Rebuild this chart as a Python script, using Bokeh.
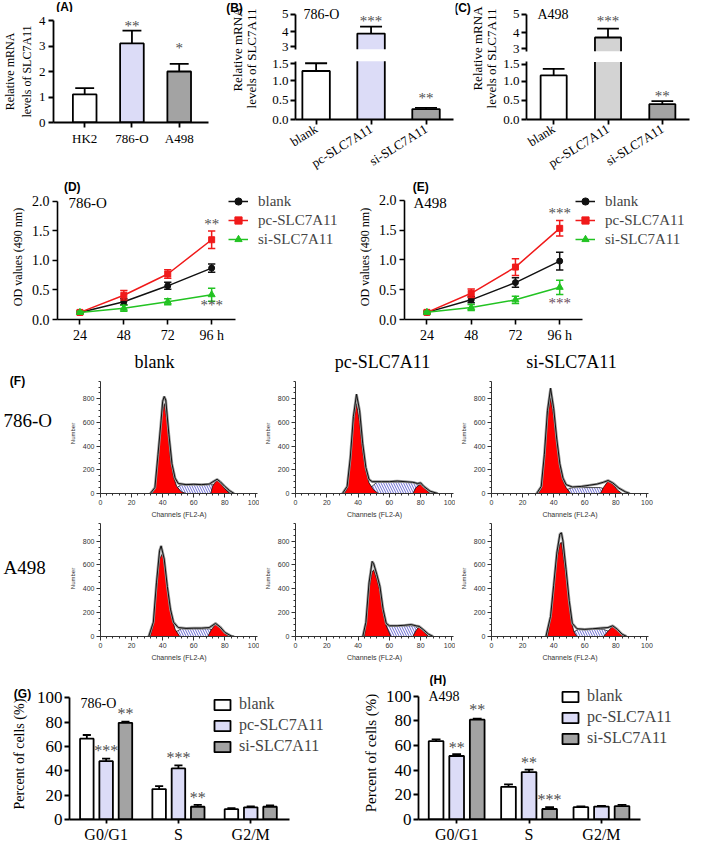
import math
from bokeh.plotting import figure
from bokeh.models import (Range1d, FixedTicker, Label, LabelSet, ColumnDataSource,
                          Legend, LegendItem, NumeralTickFormatter)
from bokeh.layouts import row, column
from bokeh.embed import file_html
from bokeh.resources import INLINE
from bokeh.core.properties import value

# ---------------- data ----------------
A_CATS = ["HK2", "786-O", "A498"]
A_VALS = [1.1, 3.1, 2.0]
A_ERR = [0.25, 0.5, 0.3]
A_STARS = ["", "**", "*"]
A_STAR_Y = [0, 3.8, 2.92]

GROUPS = ["blank", "pc-SLC7A11", "si-SLC7A11"]
B_VALS = [1.25, 3.9, 0.27]
B_ERR = [0.2, 0.4, 0.03]
B_STARS = ["", "***", "**"]
B_STAR_Y = [0, 4.62, 0.55]
C_VALS = [1.15, 3.75, 0.4]
C_ERR = [0.17, 0.48, 0.08]
C_STARS = ["", "***", "**"]
C_STAR_Y = [0, 4.65, 0.62]
BC_TOP_TICKS = ["3", "4", "5"]
BC_BOT_TICKS = ["0.0", "0.5", "1.0", "1.5"]

HOURS = [24, 48, 72, 96]
HOUR_LABELS = ["24", "48", "72", "96 h"]
D_BLANK = [0.12, 0.30, 0.57, 0.87]
D_BLANK_ERR = [0.02, 0.05, 0.06, 0.07]
D_PC = [0.12, 0.41, 0.77, 1.35]
D_PC_ERR = [0.02, 0.08, 0.07, 0.15]
D_SI = [0.12, 0.19, 0.30, 0.42]
D_SI_ERR = [0.02, 0.05, 0.05, 0.11]
D_STARS = ["**", "***"]
D_STAR_Y = [1.62, 0.24]
E_BLANK = [0.12, 0.33, 0.62, 0.98]
E_BLANK_ERR = [0.02, 0.05, 0.08, 0.15]
E_PC = [0.12, 0.44, 0.88, 1.53]
E_PC_ERR = [0.02, 0.07, 0.14, 0.13]
E_SI = [0.12, 0.20, 0.33, 0.54]
E_SI_ERR = [0.02, 0.05, 0.06, 0.12]
E_STARS = ["***", "***"]
E_STAR_Y = [1.78, 0.28]

# flow cytometry histograms: (channel, count) points
FC_786O_BLANK_G1 = [(33, 0), (35, 40), (37, 300), (39, 620), (41, 760), (43, 600), (45, 300), (47, 140), (49, 60), (52, 15), (55, 0)]
FC_786O_BLANK_S = [(44, 0), (48, 40), (52, 75), (72, 75), (80, 40), (84, 0)]
FC_786O_BLANK_G2 = [(71, 0), (72, 60), (74, 100), (75, 110), (77, 90), (80, 40), (83, 0)]
FC_786O_BLANK_ENV = [(32, 0), (35, 50), (37, 330), (39, 620), (40, 780), (41, 820), (42, 790), (44, 500), (46, 250), (48, 130), (50, 85), (55, 75), (60, 78), (65, 75), (70, 80), (73, 105), (75, 120), (77, 100), (80, 60), (83, 25), (86, 0)]

FC_786O_PC_G1 = [(31, 0), (33, 40), (35, 250), (37, 600), (39, 760), (41, 600), (43, 350), (45, 190), (47, 90), (50, 30), (53, 0)]
FC_786O_PC_S = [(44, 0), (48, 50), (52, 95), (76, 95), (82, 40), (86, 0)]
FC_786O_PC_G2 = [(75, 0), (77, 50), (80, 80), (83, 40), (86, 0)]
FC_786O_PC_ENV = [(30, 0), (33, 60), (35, 300), (37, 650), (39, 840), (41, 700), (43, 420), (45, 220), (47, 120), (49, 100), (55, 100), (60, 100), (65, 105), (70, 100), (75, 95), (78, 85), (80, 90), (82, 60), (86, 20), (91, 0)]

FC_786O_SI_G1 = [(30, 0), (32, 40), (34, 300), (36, 650), (38, 810), (40, 650), (42, 420), (44, 220), (46, 110), (48, 50), (51, 0)]
FC_786O_SI_S = [(44, 0), (48, 30), (52, 50), (70, 50), (76, 25), (80, 0)]
FC_786O_SI_G2 = [(70, 0), (72, 50), (75, 105), (78, 80), (81, 30), (84, 0)]
FC_786O_SI_ENV = [(29, 0), (32, 60), (34, 330), (36, 700), (38, 890), (40, 720), (42, 460), (44, 250), (46, 130), (48, 75), (52, 55), (58, 60), (63, 70), (68, 80), (72, 95), (75, 110), (78, 90), (82, 45), (86, 15), (89, 0)]

FC_A498_BLANK_G1 = [(32, 0), (34, 100), (36, 400), (38, 650), (40, 700), (42, 520), (44, 300), (46, 150), (48, 60), (51, 0)]
FC_A498_BLANK_S = [(44, 0), (48, 35), (52, 65), (70, 65), (76, 30), (80, 0)]
FC_A498_BLANK_G2 = [(69, 0), (71, 50), (74, 105), (77, 70), (80, 25), (83, 0)]
FC_A498_BLANK_ENV = [(31, 0), (34, 120), (36, 450), (38, 720), (39, 760), (41, 650), (43, 420), (45, 230), (47, 120), (50, 75), (55, 68), (60, 70), (65, 70), (70, 75), (74, 110), (77, 80), (80, 35), (84, 5), (86, 0)]

FC_A498_PC_G1 = [(44, 0), (45, 100), (47, 400), (49, 540), (50, 560), (52, 480), (54, 380), (56, 200), (58, 90), (61, 0)]
FC_A498_PC_S = [(50, 0), (54, 50), (57, 90), (76, 90), (81, 40), (85, 0)]
FC_A498_PC_G2 = [(75, 0), (77, 50), (79, 80), (82, 40), (85, 0)]
FC_A498_PC_ENV = [(43, 0), (45, 120), (47, 450), (49, 630), (50, 610), (52, 520), (54, 420), (56, 230), (58, 110), (60, 90), (65, 90), (70, 95), (74, 100), (77, 90), (79, 85), (82, 55), (85, 20), (88, 0)]

FC_A498_SI_G1 = [(36, 0), (38, 150), (40, 400), (42, 650), (44, 780), (45, 790), (47, 600), (49, 410), (51, 150), (53, 40), (55, 0)]
FC_A498_SI_S = [(50, 0), (53, 40), (56, 60), (72, 60), (78, 30), (82, 0)]
FC_A498_SI_G2 = [(72, 0), (75, 45), (78, 85), (81, 50), (84, 10), (86, 0)]
FC_A498_SI_ENV = [(35, 0), (38, 170), (40, 430), (42, 700), (44, 860), (45, 870), (46, 800), (48, 560), (50, 300), (52, 110), (55, 65), (60, 60), (65, 65), (70, 70), (75, 75), (78, 90), (81, 60), (84, 20), (87, 0)]

FC_X_TICKS = [0, 20, 40, 60, 80, 100]
FC_Y_TICKS = [0, 200, 400, 600, 800]

PHASES = ["G0/G1", "S", "G2/M"]
G_BLANK = [66.5, 25.0, 8.5]
G_BLANK_ERR = [3.0, 2.5, 0.8]
G_PC = [48.0, 42.0, 10.0]
G_PC_ERR = [2.0, 2.5, 0.8]
G_SI = [79.5, 10.5, 10.5]
G_SI_ERR = [1.0, 1.5, 1.0]
G_PC_STARS = ["***", "***", ""]
G_PC_STAR_Y = [57, 51, 0]
G_SI_STARS = ["**", "**", ""]
G_SI_STAR_Y = [87, 18, 0]
H_BLANK = [63.5, 26.5, 10.0]
H_BLANK_ERR = [1.5, 2.0, 0.7]
H_PC = [51.5, 38.5, 10.5]
H_PC_ERR = [1.5, 2.0, 0.5]
H_SI = [81.0, 8.5, 10.8]
H_SI_ERR = [0.8, 1.5, 1.0]
H_PC_STARS = ["**", "**", ""]
H_PC_STAR_Y = [58, 46.5, 0]
H_SI_STARS = ["**", "***", ""]
H_SI_STAR_Y = [89, 16, 0]

# ---------------- style ----------------
SERIF = "Liberation Serif"
SANS = "Liberation Sans"
WHITE = "#ffffff"
LAV = "#dcdcf7"
GRAY = "#a3a3a3"
LGRAY = "#d3d3d3"
STAR = "#505050"
C_BLK = "#111111"
C_RED = "#f01a1a"
C_GRN = "#22c322"

W, H = 693, 845
KX = W / 709.0
KY = H / 861.0


def sx(x):
    return int(round(x * KX))


def sy(y):
    return int(round(y * KY))


def lin(va, pa, vb, pb, f):
    """value at reference pixel f for an axis where va sits at pa and vb at pb"""
    return va + (f - pa) * (vb - va) / float(pb - pa)


def make_fig(box, frame, xr, yr, xaxis=True, yaxis=True):
    x0, y0, x1, y1 = box
    fl, ft, fr, fb = frame
    p = figure(width=sx(x1) - sx(x0), height=sy(y1) - sy(y0), x_range=xr, y_range=yr,
               output_backend="svg", toolbar_location=None, title=None,
               x_axis_location="below" if xaxis else None,
               y_axis_location="left" if yaxis else None,
               min_border_left=sx(fl) - sx(x0), min_border_right=sx(x1) - sx(fr),
               min_border_top=sy(ft) - sy(y0), min_border_bottom=sy(y1) - sy(fb))
    p.outline_line_color = None
    p.grid.visible = False
    p.background_fill_color = "white"
    p.border_fill_color = "white"

    def put(X, Y, text, size=14, font=SERIF, align="center", baseline="middle",
            angle=0.0, color="black", style="normal"):
        p.add_layout(Label(x=sx(X) - sx(fl), y=sy(fb) - sy(Y), x_units="screen", y_units="screen",
                           text=text, text_font=font, text_font_size=f"{size}px",
                           text_align=align, text_baseline=baseline, angle=angle,
                           text_color=color, text_font_style=style))
    return p, put


def text_fig(box):
    x0, y0, x1, y1 = box
    p = figure(width=sx(x1) - sx(x0), height=sy(y1) - sy(y0),
               x_range=Range1d(sx(x0), sx(x1)), y_range=Range1d(-sy(y1), -sy(y0)),
               output_backend="svg", toolbar_location=None, title=None,
               x_axis_location=None, y_axis_location=None, min_border=0)
    p.outline_line_color = None
    p.grid.visible = False
    p.background_fill_color = "white"
    p.border_fill_color = "white"

    def put(X, Y, text, size=14, font=SERIF, align="center", baseline="middle",
            angle=0.0, color="black", style="normal"):
        p.text(x=[sx(X)], y=[-sy(Y)], text=[text], text_font=value(font),
               text_font_size=value(f"{size}px"), text_align=align, text_baseline=baseline,
               angle=angle, text_color=color, text_font_style=style)
    return p, put


def style_axis(ax, size=14, font=SERIF, lw=1.8, tick=5, standoff=3):
    ax.axis_line_width = lw
    ax.axis_line_color = "black"
    ax.major_tick_line_width = lw
    ax.major_tick_line_color = "black"
    ax.major_tick_out = tick
    ax.major_tick_in = 0
    ax.minor_tick_line_color = None
    ax.major_label_text_font = font
    ax.major_label_text_font_size = f"{size}px"
    ax.major_label_text_color = "black"
    ax.major_label_standoff = standoff


def axis_title(ax, text, size, font=SERIF, standoff=3):
    ax.axis_label = text
    ax.axis_label_text_font = font
    ax.axis_label_text_font_size = f"{size}px"
    ax.axis_label_text_font_style = "normal"
    ax.axis_label_text_color = "black"
    ax.axis_label_standoff = standoff


def bars(p, xs, vals, errs, colors, width, cap, lw=1.8):
    src = ColumnDataSource(dict(x=xs, top=vals, c=colors))
    tops = [v + e for v, e in zip(vals, errs)]
    p.segment(xs, vals, xs, tops, line_color="black", line_width=lw)
    p.segment([x - cap for x in xs], tops, [x + cap for x in xs], tops, line_color="black", line_width=lw)
    return p.vbar(x="x", top="top", bottom=0, width=width, fill_color="c",
                  line_color="black", line_width=lw, source=src)


def seg_bars(p, xs, vals, errs, colors, width, lo, hi, cap=0.2, lw=1.8):
    hw = width / 2.0
    q0, q1, qb, qt, qc = [], [], [], [], []
    lx, ly, ex, e0, e1 = [], [], [], [], []
    for x, v, e, c in zip(xs, vals, errs, colors):
        if v <= lo:
            continue
        t = min(v, hi)
        q0.append(x - hw); q1.append(x + hw); qb.append(lo); qt.append(t); qc.append(c)
        if v <= hi:
            lx.append([x - hw, x - hw, x + hw, x + hw]); ly.append([lo, v, v, lo])
            ex.append(x); e0.append(v); e1.append(v + e)
        else:
            lx.append([x - hw, x - hw]); ly.append([lo, t])
            lx.append([x + hw, x + hw]); ly.append([lo, t])
    p.quad(left=q0, right=q1, bottom=qb, top=qt, fill_color=qc, line_color=None)
    p.multi_line(lx, ly, line_color="black", line_width=lw)
    if ex:
        p.segment(ex, e0, ex, e1, line_color="black", line_width=lw)
        p.segment([x - cap for x in ex], e1, [x + cap for x in ex], e1, line_color="black", line_width=lw)


def stars(p, xs, ys, texts, size=15, color=STAR):
    keep = [(x, y, t) for x, y, t in zip(xs, ys, texts) if t]
    if not keep:
        return
    src = ColumnDataSource(dict(x=[k[0] for k in keep], y=[k[1] for k in keep], t=[k[2] for k in keep]))
    p.add_layout(LabelSet(x="x", y="y", text="t", source=src, text_align="center",
                          text_baseline="middle", text_font=value(SERIF),
                          text_font_size=value(f"{size}px"), text_color=color))


# ---------------- row 1: panels A, B, C ----------------
stripA, putSA = text_fig((0, 0, 230, 12))
putSA(16, 6, "(A)", 12, SANS, style="bold")

xA = list(range(len(A_CATS)))
pA, putA = make_fig((0, 12, 230, 182), (49, 20, 213, 124),
                    Range1d(lin(0, 82, 2, 182, 49), lin(0, 82, 2, 182, 213)), Range1d(0, 4))
bars(pA, xA, A_VALS, A_ERR, [WHITE, LAV, GRAY], 0.5, 0.2)
stars(pA, xA, A_STAR_Y, A_STARS, 15)
style_axis(pA.xaxis, 13)
style_axis(pA.yaxis, 13)
pA.xaxis.ticker = FixedTicker(ticks=xA)
pA.xaxis.major_label_overrides = {i: c for i, c in enumerate(A_CATS)}
pA.yaxis.ticker = FixedTicker(ticks=[0, 1, 2, 3, 4])
axis_title(pA.yaxis, "Relative mRNA\nlevels of SLC7A11", 12, standoff=2)


def broken_panel(xb, split, xfr, xpos, topy, boty, vals, errs, colors, width, star_y, star_t, name, name_x):
    x0, x1 = xb
    fl, fr = xfr
    xs = list(range(len(GROUPS)))
    xr = Range1d(lin(0, xpos[0], 2, xpos[1], fl), lin(0, xpos[0], 2, xpos[1], fr))
    (t3, t5), (b0, b15) = topy, boty
    pt, putt = make_fig((x0, 0, x1, split), (fl, 0, fr, t3), xr,
                        Range1d(3, lin(3, t3, 5, t5, 0)), xaxis=False)
    pb, putb = make_fig((x0, split, x1, 182), (fl, split, fr, b0), xr,
                        Range1d(0, lin(0, b0, 1.5, b15, split)))
    seg_bars(pt, xs, vals, errs, colors, width, 3, 5)
    seg_bars(pb, xs, vals, errs, colors, width, 0, 1.5)
    for p in (pt, pb):
        style_axis(p.yaxis, 13, standoff=2)
    # the two labels next to the break sit a hair away from the break so they do not collide
    top_ticks = [3.15, 4, 5]
    bot_ticks = [0, 0.5, 1, 1.44]
    pt.yaxis.ticker = FixedTicker(ticks=top_ticks)
    pt.yaxis.major_label_overrides = {t: l for t, l in zip(top_ticks, BC_TOP_TICKS)}
    pt.yaxis.bounds = (3, 5)
    pb.yaxis.ticker = FixedTicker(ticks=bot_ticks)
    pb.yaxis.major_label_overrides = {t: l for t, l in zip(bot_ticks, BC_BOT_TICKS)}
    pb.yaxis.bounds = (0, 1.5)
    style_axis(pb.xaxis, 13)
    pb.xaxis.ticker = FixedTicker(ticks=xs)
    pb.xaxis.major_label_overrides = {i: g for i, g in enumerate(GROUPS)}
    pb.xaxis.major_label_orientation = 0.56
    stars(pt, xs, star_y, [t if y >= 3 else "" for t, y in zip(star_t, star_y)], 15)
    stars(pb, xs, star_y, [t if y < 3 else "" for t, y in zip(star_t, star_y)], 15)
    putt(name_x, 14, name, 14, align="left")
    return column(pt, pb)


colB = broken_panel((266, 465), 56, (302, 463), (323, 435), (50, 14), (122, 62),
                    B_VALS, B_ERR, [WHITE, LAV, GRAY], 0.5, B_STAR_Y, B_STARS, "786-O", 310)
colC = broken_panel((512, 709), 57, (537, 705), (565, 677), (52, 14), (126, 63),
                    C_VALS, C_ERR, [WHITE, LGRAY, GRAY], 0.48, C_STAR_Y, C_STARS, "A498", 548)

pBl, putBl = text_fig((230, 0, 266, 182))
putBl(239, 7, "(B)", 12, SANS, style="bold")
putBl(242, 50, "Relative mRNA", 13, angle=math.pi / 2)
putBl(257, 59, "levels of SLC7A11", 13, angle=math.pi / 2)
pCl, putCl = text_fig((465, 0, 512, 182))
putCl(473, 7, "(C)", 12, SANS, style="bold")
putCl(488, 49, "Relative mRNA", 13, angle=math.pi / 2)
putCl(502, 59, "levels of SLC7A11", 13, angle=math.pi / 2)


# ---------------- row 2: panels D, E ----------------
def od_panel(box, frame, xpix, ypix, axis_end, series, star_t, star_y, star_cols, name, name_x, leg_top, leg_x):
    x0, y0, x1, y1 = box
    fl, ft, fr, fb = frame
    xr = Range1d(lin(24, xpix[0], 96, xpix[1], fl), lin(24, xpix[0], 96, xpix[1], fr))
    yr = Range1d(0, lin(0, ypix[0], 2, ypix[1], ft))
    p, put = make_fig(box, frame, xr, yr)
    rs = []
    for (vals, errs), col, mk, sz in zip(series, [C_BLK, C_RED, C_GRN],
                                        ["circle", "square", "triangle"], [6, 6, 7]):
        lo = [v - e for v, e in zip(vals, errs)]
        hi = [v + e for v, e in zip(vals, errs)]
        p.segment(HOURS, lo, HOURS, hi, line_color=col, line_width=1.5)
        p.segment([h - 2 for h in HOURS], hi, [h + 2 for h in HOURS], hi, line_color=col, line_width=1.5)
        p.segment([h - 2 for h in HOURS], lo, [h + 2 for h in HOURS], lo, line_color=col, line_width=1.5)
        ln = p.line(HOURS, vals, line_color=col, line_width=1.5)
        sc = p.scatter(HOURS, vals, marker=mk, size=sz, fill_color=col, line_color=col)
        rs.append([ln, sc])
    for t, y, c in zip(star_t, star_y, star_cols):
        stars(p, [96], [y], [t], 15, c)
    style_axis(p.xaxis, 14, lw=1.6)
    style_axis(p.yaxis, 14, lw=1.6)
    p.xaxis.ticker = FixedTicker(ticks=HOURS)
    p.xaxis.major_label_overrides = {h: l for h, l in zip(HOURS, HOUR_LABELS)}
    p.xaxis.bounds = (xr.start, lin(24, xpix[0], 96, xpix[1], axis_end))
    p.yaxis.ticker = FixedTicker(ticks=[0, 0.5, 1.0, 1.5, 2.0])
    p.yaxis.bounds = (0, 2)
    p.yaxis.formatter = NumeralTickFormatter(format="0.0")
    axis_title(p.yaxis, "OD values (490 nm)", 12, standoff=4)
    leg_h = 3 * 18 + 2
    leg = Legend(items=[LegendItem(label=g, renderers=r) for g, r in zip(GROUPS, rs)],
                 location=(sx(leg_x) - sx(fl), sy(fb) - sy(leg_top + leg_h)),
                 border_line_color=None, background_fill_alpha=0,
                 padding=0, margin=0, spacing=1, glyph_width=20, glyph_height=18,
                 label_height=18, label_standoff=10, label_text_font=SERIF,
                 label_text_font_size="15px")
    p.add_layout(leg)
    put(name_x, 207, name, 15, align="left")
    return p


stripD, putSD = text_fig((0, 182, 350, 198))
putSD(18, 190, "(D)", 12, SANS, style="bold")
stripE, putSE = text_fig((350, 182, 709, 198))
putSE(370, 190, "(E)", 12, SANS, style="bold")
pD = od_panel((0, 198, 350, 352), (58, 198, 345, 326), (81, 216), (326, 205), 240,
              [(D_BLANK, D_BLANK_ERR), (D_PC, D_PC_ERR), (D_SI, D_SI_ERR)],
              D_STARS, D_STAR_Y, [STAR, STAR], "786-O", 70, 198, 233)
pE = od_panel((350, 198, 709, 352), (413, 198, 705, 326), (436, 572), (326, 204), 595,
              [(E_BLANK, E_BLANK_ERR), (E_PC, E_PC_ERR), (E_SI, E_SI_ERR)],
              E_STARS, E_STAR_Y, [STAR, "#6b4c5c"], "A498", 423, 198, 588)


# ---------------- rows 3-5: panel F ----------------
def hist_panel(box, frame, g1, s, g2, env):
    fl, ft, fr, fb = frame
    yr = Range1d(0, lin(0, fb, 800, fb - 97, ft))
    p, put = make_fig(box, frame, Range1d(0, 101), yr)

    def xy(pts):
        return [a for a, b in pts], [b for a, b in pts]
    x, y = xy(s)
    p.patch(x, y, fill_color="white", hatch_pattern="\\", hatch_color="#4646c8",
            hatch_scale=5, hatch_weight=0.8, line_color="#222222", line_width=0.8)
    x, y = xy(g1)
    p.patch(x, y, fill_color="#ff0000", line_color="#111111", line_width=0.8)
    x, y = xy(g2)
    p.patch(x, y, fill_color="#ff0000", line_color="#111111", line_width=0.8)
    x, y = xy(env)
    p.line(x, y, line_color="#9a9a9a", line_width=2.6)
    p.line(x, y, line_color="#111111", line_width=1.0)
    for ax, ticks, minor in ((p.xaxis, FC_X_TICKS, list(range(0, 101, 4))),
                             (p.yaxis, FC_Y_TICKS, list(range(0, 951, 50)))):
        ax.ticker = FixedTicker(ticks=ticks, minor_ticks=minor)
        ax.axis_line_width = 1
        ax.axis_line_color = "#333333"
        ax.major_tick_out = 4
        ax.major_tick_in = 0
        ax.minor_tick_out = 2
        ax.minor_tick_in = 0
        ax.major_tick_line_color = "#333333"
        ax.minor_tick_line_color = "#333333"
        ax.major_label_text_font = SANS
        ax.major_label_text_font_size = "7px"
        ax.major_label_text_color = "#333333"
        ax.major_label_standoff = 2
    p.yaxis.bounds = (0, 950)
    axis_title(p.yaxis, "Number", 6, SANS, standoff=4)
    axis_title(p.xaxis, "Channels (FL2-A)", 7, SANS, standoff=3)
    p.yaxis.axis_label_text_color = "#333333"
    p.xaxis.axis_label_text_color = "#333333"
    return p


stripF, putSF = text_fig((0, 352, 709, 380))
putSF(158, 368, GROUPS[0], 18)
putSF(391, 368, GROUPS[1], 18)
putSF(584, 368, GROUPS[2], 18)

rl1, putR1 = text_fig((0, 380, 62, 530))
putR1(17, 389, "(F)", 12, SANS, style="bold")
putR1(3, 438, "786-O", 19, align="left")
rl2, putR2 = text_fig((0, 530, 62, 680))
putR2(3, 590, "A498", 19, align="left")

h11 = hist_panel((62, 380, 265, 530), (102, 380, 263, 503), FC_786O_BLANK_G1, FC_786O_BLANK_S,
                 FC_786O_BLANK_G2, FC_786O_BLANK_ENV)
h12 = hist_panel((265, 380, 465, 530), (302, 380, 463, 503), FC_786O_PC_G1, FC_786O_PC_S,
                 FC_786O_PC_G2, FC_786O_PC_ENV)
h13 = hist_panel((465, 380, 709, 530), (502, 380, 663, 503), FC_786O_SI_G1, FC_786O_SI_S,
                 FC_786O_SI_G2, FC_786O_SI_ENV)
h21 = hist_panel((62, 530, 265, 680), (102, 530, 263, 648), FC_A498_BLANK_G1, FC_A498_BLANK_S,
                 FC_A498_BLANK_G2, FC_A498_BLANK_ENV)
h22 = hist_panel((265, 530, 465, 680), (302, 530, 463, 648), FC_A498_PC_G1, FC_A498_PC_S,
                 FC_A498_PC_G2, FC_A498_PC_ENV)
h23 = hist_panel((465, 530, 709, 680), (502, 530, 663, 648), FC_A498_SI_G1, FC_A498_SI_S,
                 FC_A498_SI_G2, FC_A498_SI_ENV)


# ---------------- row 6: panels G, H ----------------
def cycle_panel(box, frame, xpix, ypix, axis_end, step, width, series, star_sets, name, name_y,
                leg_x, leg_top, ylab=True):
    x0, y0, x1, y1 = box
    fl, ft, fr, fb = frame
    xr = Range1d(lin(0, xpix[0], 2, xpix[1], fl), lin(0, xpix[0], 2, xpix[1], fr))
    yr = Range1d(0, lin(0, ypix[0], 100, ypix[1], ft))
    p, put = make_fig(box, frame, xr, yr)
    gx = list(range(len(PHASES)))
    rs = []
    for k, ((vals, errs), col) in enumerate(zip(series, [WHITE, LAV, GRAY])):
        xs = [g + (k - 1) * step for g in gx]
        rs.append(bars(p, xs, vals, errs, [col] * len(xs), width, width * 0.3))
    for k, (texts, ys) in star_sets:
        xs = [g + (k - 1) * step for g in gx]
        stars(p, xs, ys, texts, 16)
    style_axis(p.xaxis, 16, tick=4, standoff=2)
    style_axis(p.yaxis, 17, standoff=2)
    p.xaxis.ticker = FixedTicker(ticks=gx)
    p.xaxis.major_label_overrides = {i: c for i, c in enumerate(PHASES)}
    p.xaxis.bounds = (xr.start, lin(0, xpix[0], 2, xpix[1], axis_end))
    p.yaxis.ticker = FixedTicker(ticks=[0, 20, 40, 60, 80, 100])
    p.yaxis.bounds = (0, 100)
    if ylab:
        axis_title(p.yaxis, "Percent of cells (%)", 15, standoff=4)
    leg_h = 3 * 20 + 2
    leg = Legend(items=[LegendItem(label=g, renderers=[r]) for g, r in zip(GROUPS, rs)],
                 location=(sx(leg_x) - sx(fl), sy(fb) - sy(leg_top + leg_h)),
                 border_line_color=None, background_fill_alpha=0,
                 padding=0, margin=0, spacing=1, glyph_width=20, glyph_height=13,
                 label_height=20, label_standoff=7, label_text_font=SERIF,
                 label_text_font_size="16px")
    p.add_layout(leg)
    put(name[1], name_y, name[0], 14, align="left")
    return p


gLab, putGL = text_fig((0, 680, 34, 861))
putGL(22, 701, "(G)", 12, SANS, style="bold")
putGL(19, 777, "Percent of cells (%)", 14, angle=math.pi / 2)
pG = cycle_panel((34, 680, 350, 861), (67, 690, 345, 836), (105, 255), (836, 711), 295, 0.267, 0.187,
                 [(G_BLANK, G_BLANK_ERR), (G_PC, G_PC_ERR), (G_SI, G_SI_ERR)],
                 [(1, (G_PC_STARS, G_PC_STAR_Y)), (2, (G_SI_STARS, G_SI_STAR_Y))],
                 ("786-O", 78), 717, 213, 709, ylab=False)
stripH, putSH = text_fig((350, 680, 709, 699))
putSH(375, 692, "(H)", 12, SANS, style="bold")
pH = cycle_panel((350, 699, 709, 861), (428, 699, 705, 836), (467, 615), (836, 709), 655, 0.284, 0.203,
                 [(H_BLANK, H_BLANK_ERR), (H_PC, H_PC_ERR), (H_SI, H_SI_ERR)],
                 [(1, (H_PC_STARS, H_PC_STAR_Y)), (2, (H_SI_STARS, H_SI_STAR_Y))],
                 ("A498", 438), 710, 573, 701)

layout = column(
    row(column(stripA, pA), pBl, colB, pCl, colC),
    row(column(stripD, pD), column(stripE, pE)),
    stripF,
    row(rl1, h11, h12, h13),
    row(rl2, h21, h22, h23),
    row(gLab, pG, column(stripH, pH)),
)

open("out.html", "w").write(file_html(layout, INLINE))
